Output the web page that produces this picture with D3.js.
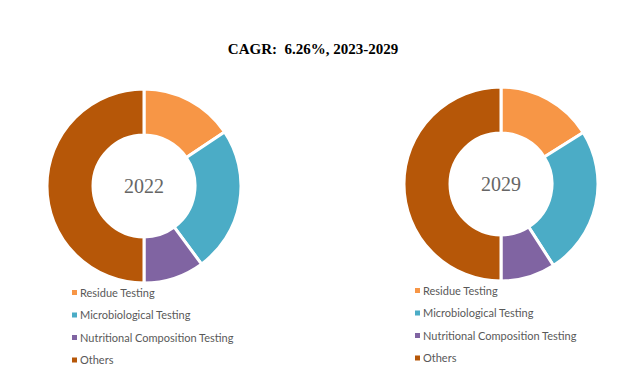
<!DOCTYPE html>
<html><head><meta charset="utf-8">
<script src="https://cdn.jsdelivr.net/npm/d3@7"></script>
<style>body{margin:0;background:#fff}</style>
</head><body>
<svg id="c" width="643" height="378"></svg>
<script>
const categories = ["Residue Testing","Microbiological Testing","Nutritional Composition Testing","Others"];
const values2022 = [15.6, 24.3, 10.1, 50.0];
const values2029 = [16.1, 24.8, 9.1, 50.0];
const years = ["2022","2029"];
const colors = ["#F79646","#4BACC6","#8064A2","#B65708"];
const title = "CAGR:  6.26%, 2023-2029";

const svg = d3.select("#c");
svg.append("text").attr("x",313).attr("y",54).attr("text-anchor","middle")
  .style("white-space","pre")
  .attr("font-family","Liberation Serif, Times New Roman, serif").attr("font-weight","bold")
  .attr("font-size",15).attr("fill","#000").text(title);

const color = d3.scaleOrdinal().domain(categories).range(colors);
const pie = d3.pie().sort(null).value(d=>d.v);
const arc = d3.arc().innerRadius(51).outerRadius(97);

const charts = [
  {year: years[0], vals: values2022, cx:144, cy:186, lx:72, ly:293},
  {year: years[1], vals: values2029, cx:501, cy:184, lx:415, ly:291}
];
charts.forEach(ch=>{
  const g = svg.append("g").attr("transform",`translate(${ch.cx},${ch.cy})`);
  const data = categories.map((c,i)=>({c, v: ch.vals[i]}));
  g.selectAll("path").data(pie(data)).join("path")
    .attr("d",arc).attr("fill",d=>color(d.data.c))
    .attr("stroke","#fff").attr("stroke-width",3).attr("stroke-linejoin","round");
  g.append("text").attr("text-anchor","middle").attr("dy","0.35em")
    .attr("font-family","Liberation Serif, Times New Roman, serif")
    .attr("font-size",20).attr("fill","#666").text(ch.year);
  const lg = svg.append("g").attr("transform",`translate(${ch.lx},${ch.ly})`);
  categories.forEach((c,i)=>{
    lg.append("rect").attr("x",0).attr("y",i*22.5-3).attr("width",5).attr("height",5).attr("fill",color(c));
    lg.append("text").attr("x",8).attr("y",i*22.5).attr("dy","0.35em")
      .attr("font-family","Lato, Open Sans, sans-serif").attr("font-size",11)
      .attr("fill","#595959").text(c);
  });
});
</script>
</body></html>
